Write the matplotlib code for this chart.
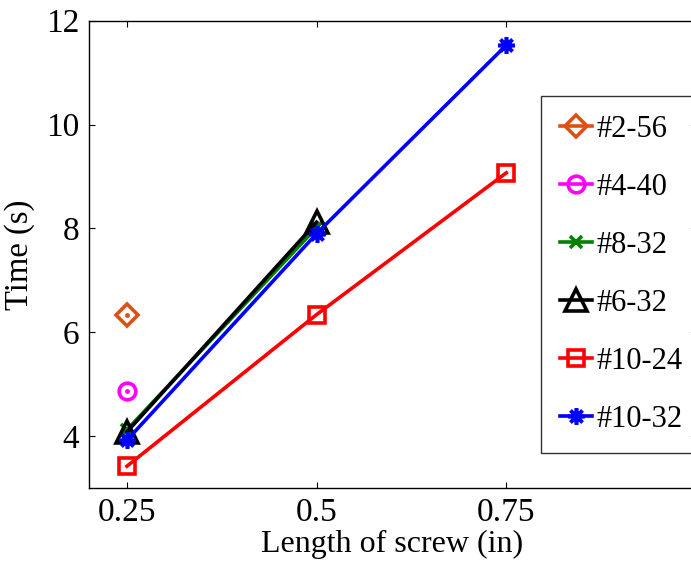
import matplotlib
matplotlib.use("Agg")
import matplotlib.pyplot as plt

# Screw insertion time by length, one series per screw size
lengths = [0.25, 0.5, 0.75]
labels = ["#2-56", "#4-40", "#8-32", "#6-32", "#10-24", "#10-32"]
times = [
    [6.34],
    [4.86],
    [4.12, 8.02],
    [4.08, 8.12],
    [3.42, 6.34, 9.07],
    [3.92, 7.90, 11.53],
]
colors = ["#D95319", "#FF00FF", "#008000", "#000000", "#FF0000", "#0000FF"]
markers = ["D", "o", "x", "^", "s", (8, 2, 0)]
sizes = [11, 12, 8, 16, 12, 12]

plt.rcParams["font.family"] = ["Liberation Serif", "DejaVu Serif"]

fig = plt.figure(figsize=(6.91, 5.61), dpi=100)
ax = fig.add_axes([89 / 691, 1 - 488 / 561, 607 / 691, (488 - 20.7) / 561])

for name, t, c, m, ms in zip(labels, times, colors, markers, sizes):
    x = lengths[:len(t)]
    ax.plot(x, t, color=c, lw=2.6, marker=m, ms=ms, mfc="none",
            mec=c, mew=2.6, label=name)
    if len(t) == 1:
        ax.plot(x, t, ls="none", marker="o", ms=2.5, color=c)

ax.set_xlim(0.2, 1.0)
ax.set_ylim(3, 12)
ax.set_xticks(lengths)
ax.set_xticklabels(["0.25", "0.5", "0.75"])
ax.set_yticks([4, 6, 8, 10, 12])
ax.tick_params(direction="in", length=4, width=0.8, labelsize=24,
               top=True, right=True, pad=7)
for s in ax.spines.values():
    s.set_linewidth(1.0)

ax.set_xlabel("Length of screw (in)", fontsize=23, labelpad=1)
ax.set_ylabel("Time (s)", fontsize=23.5, labelpad=8)

leg = ax.legend(loc="upper left", bbox_to_anchor=(541 / 691, 1 - 96 / 561),
                bbox_transform=fig.transFigure, fontsize=22, frameon=True,
                fancybox=False, edgecolor="black", handlelength=1.05,
                handletextpad=0.15, labelspacing=0.95, borderpad=0.62,
                borderaxespad=0)
leg.get_frame().set_linewidth(1.0)

fig.savefig("out.png", dpi=100)
